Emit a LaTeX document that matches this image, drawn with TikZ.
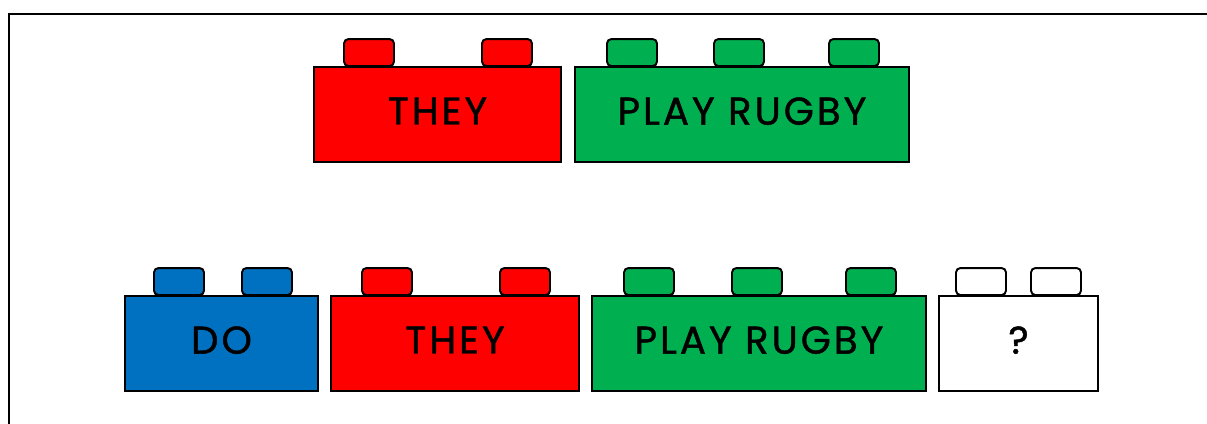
\documentclass[tikz,border=0pt]{standalone}
\usepackage{fontspec}
\setsansfont{Poppins}[LetterSpace=8,FakeBold=1.2]
\usetikzlibrary{positioning}

\definecolor{brickred}{RGB}{255,0,0}
\definecolor{brickgreen}{RGB}{0,176,80}
\definecolor{brickblue}{RGB}{0,112,192}

\begin{document}
\begin{tikzpicture}[x=0.02cm,y=-0.02cm,line width=1.1pt,
   brick/.style={draw,minimum height=1.9cm,inner sep=0pt,text depth=0.14cm,
     font=\sffamily\fontsize{22}{22}\selectfont},
   stud/.style={draw,rounded corners=2.5pt,anchor=south,inner sep=0pt,
     minimum width=1cm,minimum height=0.54cm}]
  \clip (0,0) rectangle (1207,423);
  \useasboundingbox (0,0) rectangle (1207,423);
  \draw (9,14) rectangle (1230,450);
  % first sentence
  \foreach \x in {369,507} \node[stud,fill=brickred] (they1s\x) at (\x,67) {};
  \foreach \x in {632,739,854} \node[stud,fill=brickgreen] (rugby1s\x) at (\x,67) {};
  \node[brick,fill=brickred,minimum width=4.94cm] (they1) at (437.5,114.5) {THEY};
  \node[brick,fill=brickgreen,minimum width=6.68cm] (rugby1) at (742,114.5) {PLAY RUGBY};
  % question
  \foreach \x in {179,267} \node[stud,fill=brickblue] (do2s\x) at (\x,296) {};
  \foreach \x in {387,525} \node[stud,fill=brickred] (they2s\x) at (\x,296) {};
  \foreach \x in {649,757,871} \node[stud,fill=brickgreen] (rugby2s\x) at (\x,296) {};
  \foreach \x in {981,1056} \node[stud,fill=white] (q2s\x) at (\x,296) {};
  \node[brick,fill=brickblue,minimum width=3.86cm] (do2) at (221.5,343.5) {DO};
  \node[brick,fill=brickred,minimum width=4.96cm] (they2) at (455,343.5) {THEY};
  \node[brick,fill=brickgreen,minimum width=6.68cm] (rugby2) at (759,343.5) {PLAY RUGBY};
  \node[brick,fill=white,minimum width=3.18cm] (q2) at (1018.5,343.5) {?};
\end{tikzpicture}
\end{document}
